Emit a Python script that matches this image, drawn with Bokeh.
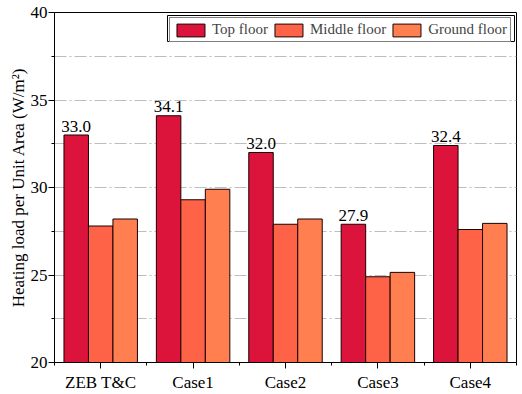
from bokeh.plotting import figure
from bokeh.models import ColumnDataSource, FixedTicker, Legend, LegendItem, Range1d, BoxAnnotation
from bokeh.core.properties import value
from bokeh.embed import file_html
from bokeh.resources import INLINE

categories = ["ZEB T&C", "Case1", "Case2", "Case3", "Case4"]
top_floor = [33.0, 34.1, 32.0, 27.9, 32.4]
middle_floor = [27.8, 29.3, 27.9, 24.9, 27.6]
ground_floor = [28.2, 29.9, 28.2, 25.15, 27.95]
series_names = ["Top floor", "Middle floor", "Ground floor"]
colors = ["#DC143C", "#FF6347", "#FF7F50"]

FONT = "Liberation Serif"
centers = [i + 0.5 for i in range(len(categories))]
bw = 0.265
offsets = [-bw, 0.0, bw]

p = figure(width=522, height=394, output_backend="svg", toolbar_location=None,
           x_range=Range1d(0, len(categories)), y_range=Range1d(20, 40),
           min_border_left=54, min_border_right=6, min_border_top=12, min_border_bottom=32)

renderers = []
for vals, off, col in zip([top_floor, middle_floor, ground_floor], offsets, colors):
    src = ColumnDataSource(dict(x=[c + off for c in centers], top=vals))
    r = p.vbar(x="x", top="top", bottom=20, width=bw, source=src,
               fill_color=col, line_color="#1a0000", line_width=1)
    renderers.append(r)

lab_src = ColumnDataSource(dict(x=[c + offsets[0] for c in centers], y=top_floor,
                                t=["{:.1f}".format(v) for v in top_floor]))
p.text(x="x", y="y", text="t", source=lab_src, text_align="center",
       text_baseline="alphabetic", y_offset=-9, text_font=value(FONT),
       text_font_size="17px", text_color="black")

# axes
p.xaxis.ticker = FixedTicker(ticks=centers, minor_ticks=list(range(len(categories) + 1)))
p.xaxis.major_label_overrides = {c: name for c, name in zip(centers, categories)}
p.yaxis.ticker = FixedTicker(ticks=[20, 25, 30, 35, 40], minor_ticks=[22.5, 27.5, 32.5, 37.5])
p.yaxis.axis_label = "Heating load per Unit Area (W/m²)"
for ax in [p.xaxis[0], p.yaxis[0]]:
    ax.major_label_text_font = FONT
    ax.major_label_text_font_size = "17px"
    ax.major_label_text_color = "black"
    ax.axis_line_color = "black"
    ax.major_tick_line_color = "black"
    ax.minor_tick_line_color = "black"
    ax.major_tick_out = 6
    ax.major_tick_in = 0
    ax.minor_tick_out = 3
    ax.minor_tick_in = 0
p.yaxis.axis_label_text_font = FONT
p.yaxis.axis_label_text_font_size = "17px"
p.yaxis.axis_label_text_font_style = "normal"
p.yaxis.axis_label_text_color = "black"
p.yaxis.axis_label_standoff = 0
p.yaxis.major_label_standoff = 1
p.xaxis.major_label_standoff = 4

p.xgrid.grid_line_color = None
p.ygrid.grid_line_color = "#bdbdbd"
p.ygrid.grid_line_dash = "12 3 2 3"
p.ygrid.minor_grid_line_color = "#bdbdbd"
p.ygrid.minor_grid_line_dash = "12 3 2 3"

p.outline_line_color = "black"
p.outline_line_alpha = 1
p.outline_line_width = 1

legend = Legend(items=[LegendItem(label=n, renderers=[r]) for n, r in zip(series_names, renderers)],
                orientation="horizontal", location="top_right",
                label_text_font=FONT, label_text_font_size="15px",
                glyph_width=35, glyph_height=16, label_standoff=4, spacing=3,
                padding=3, margin=5, border_line_color="black", border_line_width=1,
                background_fill_alpha=1)
p.add_layout(legend, "center")

# outer line of the legend's double border (screen units, frame-relative, y from bottom)
outer = BoxAnnotation(left=113, right=460, top=347, bottom=321,
                      left_units="screen", right_units="screen",
                      top_units="screen", bottom_units="screen",
                      fill_alpha=0, line_color="black", line_alpha=1, line_width=1)
p.add_layout(outer)

open("out.html", "w").write(file_html(p, INLINE))
